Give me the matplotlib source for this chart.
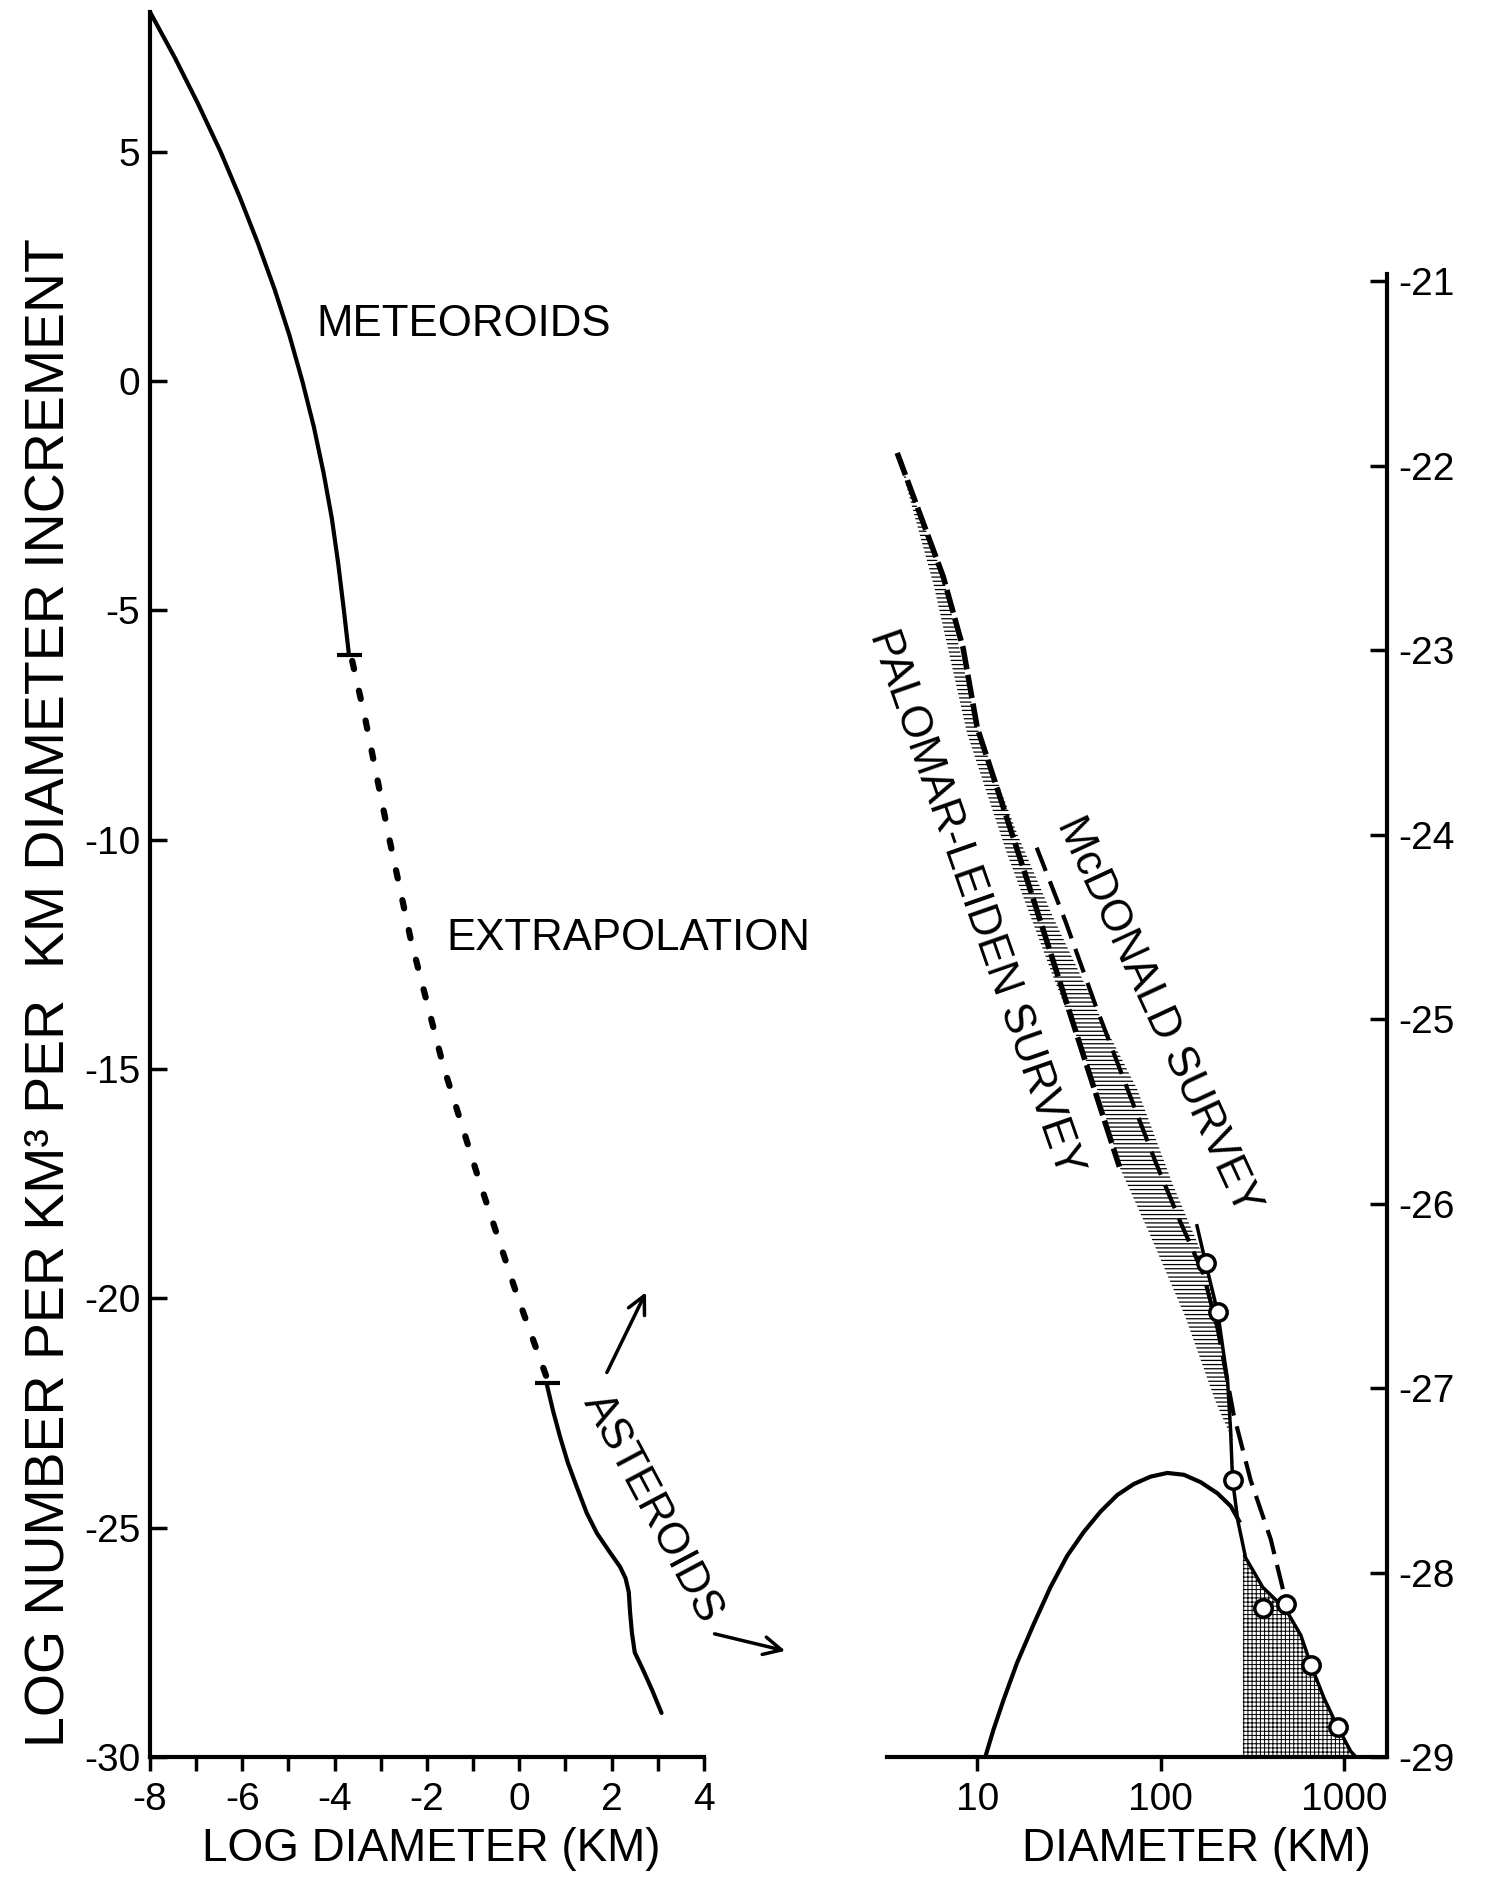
import numpy as np
import matplotlib
matplotlib.use("Agg")
import matplotlib.pyplot as plt

plt.rcParams['font.family'] = ['Liberation Sans', 'DejaVu Sans']
plt.rcParams['axes.unicode_minus'] = False
plt.rcParams['lines.scale_dashes'] = False

# ---- left panel: log diameter (km) vs log number ----
met_x = [-8.0, -7.46, -6.96, -6.47, -6.05, -5.66, -5.30, -4.98, -4.70, -4.45,
         -4.24, -4.06, -3.92, -3.80, -3.69]
met_y = [8.05, 7.05, 6.05, 5.0, 4.0, 3.0, 2.0, 1.0, 0.0, -1.0,
         -2.0, -3.0, -4.0, -5.0, -5.97]

ext_x = [-3.62, -3.34, -2.82, -2.35, -1.65, -0.88, -0.05, 0.62]
ext_y = [-6.10, -7.35, -9.96, -12.18, -14.92, -17.40, -19.93, -21.80]

ast_x = [0.59, 0.73, 0.88, 1.05, 1.24, 1.46, 1.68, 1.95, 2.18, 2.30, 2.37, 2.40, 2.44, 2.50, 2.68, 2.88, 3.08]
ast_y = [-21.85, -22.45, -23.01, -23.58, -24.10, -24.68, -25.12, -25.52, -25.85, -26.10, -26.40,
         -26.86, -27.30, -27.72, -28.10, -28.55, -29.04]

left_xticks = [-8, -6, -4, -2, 0, 2, 4]
left_yticks = [5, 0, -5, -10, -15, -20, -25, -30]

# ---- right panel: diameter (km, log scale) vs log number ----
pl_x = [3.66, 6.52, 8.38, 10.0, 11.3, 19.5, 34.3, 59.6]
pl_y = [-21.93, -22.60, -22.99, -23.42, -23.58, -24.30, -25.06, -25.80]

band_r_x = [3.66, 6.52, 10.0, 16.6, 26.0, 47.5, 74.6, 117, 171, 205, 231, 249]
band_r_y = [-21.93, -22.60, -23.42, -24.0, -24.45, -25.0, -25.38, -25.90, -26.29, -26.59, -27.0, -27.29]
band_l_x = [3.66, 5.8, 8.8, 14.5, 25.5, 47.5, 59.6, 86.8, 136, 199, 249]
band_l_y = [-21.93, -22.65, -23.45, -24.10, -24.75, -25.44, -25.80, -26.16, -26.61, -27.07, -27.29]

mcd_x = [21.1, 30.3, 44.0, 64.3, 93.5, 127, 171, 205, 250, 310, 399, 470]
mcd_y = [-24.07, -24.47, -24.92, -25.35, -25.77, -26.09, -26.38, -26.68, -27.14, -27.50, -27.82, -28.11]

obs_x = [158, 176, 205, 232, 241, 247, 264, 291, 361, 482, 582, 661, 778, 927, 1091, 1164]
obs_y = [-26.12, -26.32, -26.59, -26.96, -27.23, -27.50, -27.72, -27.92, -28.08, -28.20, -28.34,
         -28.50, -28.68, -28.84, -28.97, -29.0]

hump_x = [11.06, 12.28, 13.92, 16.48, 20.31, 25.06, 30.92, 38.10, 46.99, 58.0, 71.47,
          88.19, 108.8, 134.1, 165.4, 204.1, 241.3, 267.9]
hump_y = [-29.0, -28.85, -28.69, -28.49, -28.28, -28.08, -27.91, -27.78, -27.67, -27.58, -27.52,
          -27.48, -27.46, -27.47, -27.51, -27.57, -27.64, -27.72]

grid_x = [281, 291, 361, 482, 582, 661, 778, 927, 1091, 1164]
grid_top = [-27.86, -27.92, -28.08, -28.20, -28.34, -28.50, -28.68, -28.84, -28.97, -29.0]

circ_x = [176, 205, 247, 361, 482, 661, 927]
circ_y = [-26.32, -26.59, -27.50, -28.19, -28.17, -28.50, -28.84]

right_xticks = [10, 100, 1000]
right_yticks = [-21, -22, -23, -24, -25, -26, -27, -28, -29]

TXT = 31.5
TICK = 28

fig = plt.figure(figsize=(14.85, 18.77), dpi=100)
axL = fig.add_axes([0.10101, 0.06393, 0.37306, 0.92968])
axR = fig.add_axes([0.59731, 0.06393, 0.33670, 0.79009])

# left panel
axL.plot(met_x, met_y, color='k', lw=3, solid_capstyle='round', clip_on=False)
axL.plot(ext_x, ext_y, color='k', lw=4.5, dashes=(6, 16), dash_capstyle='round')
axL.plot([met_x[-1], ast_x[0]], [met_y[-1], ast_y[0]], 'k_', ms=18, mew=3)
axL.plot(ast_x, ast_y, color='k', lw=3, solid_capstyle='round')

axL.set_xlim(-8, 4)
axL.set_ylim(-30, 8.05)
for s in ['top', 'right']:
    axL.spines[s].set_visible(False)
for s in ['left', 'bottom']:
    axL.spines[s].set_linewidth(3)
axL.set_xticks(left_xticks)
axL.set_xticks(np.arange(-7, 4, 2), minor=True)
axL.set_yticks(left_yticks)
axL.tick_params(axis='x', which='both', direction='out', length=10, width=2.5,
                pad=8, labelsize=TICK)
axL.tick_params(axis='y', direction='in', length=12, width=2.5, pad=7, labelsize=TICK)

axL.text(-1.2, 1.23, 'METEOROIDS', fontsize=TXT, ha='center', va='center')
axL.text(2.37, -12.16, 'EXTRAPOLATION', fontsize=TXT, ha='center', va='center')
axL.text(2.89, -24.57, 'ASTEROIDS', fontsize=TXT, ha='center', va='center',
         rotation=-62, rotation_mode='anchor')
arrow = dict(arrowstyle='->', lw=2.5, color='k', mutation_scale=32)
axL.annotate('', xy=(2.77, -19.81), xytext=(1.87, -21.67), arrowprops=arrow,
             annotation_clip=False)
axL.annotate('', xy=(5.82, -27.70), xytext=(4.17, -27.30), arrowprops=arrow,
             annotation_clip=False)

# right panel
axR.set_xscale('log')
plt.rcParams['hatch.linewidth'] = 0.9
axR.fill(band_r_x + band_l_x[::-1], band_r_y + band_l_y[::-1],
         facecolor='none', edgecolor='k', hatch='----', linewidth=0)
plt.rcParams['hatch.linewidth'] = 0.7
axR.fill_between(grid_x, -29, grid_top, facecolor='none', edgecolor='k',
                 hatch='++++', linewidth=0)
axR.plot(pl_x, pl_y, color='k', lw=4, dashes=(17, 4))
axR.plot(mcd_x, mcd_y, color='k', lw=3, dashes=(18, 8))
axR.plot(obs_x, obs_y, color='k', lw=2.5)
axR.plot(hump_x, hump_y, color='k', lw=3)
axR.plot(circ_x, circ_y, 'o', ms=12.5, mfc='white', mec='k', mew=2.5, zorder=5)

axR.set_xlim(3.22, 1718)
axR.set_ylim(-29, -20.96)
for s in ['top', 'left']:
    axR.spines[s].set_visible(False)
for s in ['right', 'bottom']:
    axR.spines[s].set_linewidth(3)
axR.yaxis.tick_right()
axR.set_xticks(right_xticks)
axR.set_xticklabels([str(v) for v in right_xticks])
axR.xaxis.set_minor_locator(matplotlib.ticker.NullLocator())
axR.set_yticks(right_yticks)
axR.tick_params(axis='x', direction='out', length=10, width=2.5, pad=8, labelsize=TICK)
axR.tick_params(axis='y', direction='in', length=12, width=2.5, pad=8, labelsize=TICK)

axR.text(9.75, -24.37, 'PALOMAR-LEIDEN SURVEY', fontsize=TXT, ha='center', va='center',
         rotation=-70.8, rotation_mode='anchor')
axR.text(96.4, -24.98, 'McDONALD SURVEY', fontsize=TXT, ha='center', va='center',
         rotation=-65.2, rotation_mode='anchor')

fig.text(0.033, 0.471, 'LOG NUMBER PER KM\u00b3 PER  KM DIAMETER INCREMENT',
         fontsize=40, rotation=90, ha='center', va='center')
fig.text(0.2902, 0.0149, 'LOG DIAMETER (KM)', fontsize=33, ha='center', va='center')
fig.text(0.806, 0.0149, 'DIAMETER (KM)', fontsize=33, ha='center', va='center')

fig.savefig('out.png', dpi=100)
